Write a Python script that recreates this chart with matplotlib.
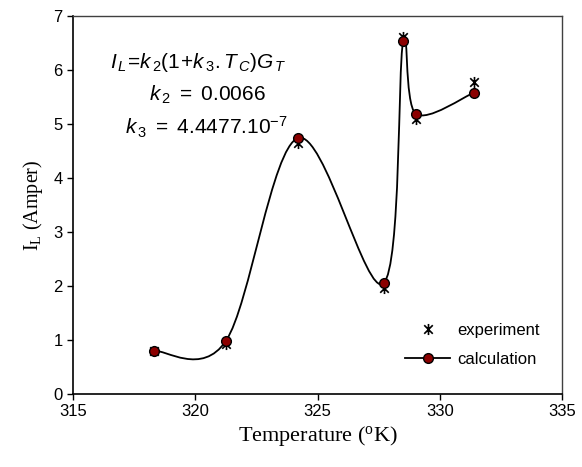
import matplotlib
matplotlib.use("Agg")
import matplotlib.pyplot as plt
from matplotlib.path import Path
from matplotlib.patches import PathPatch
from matplotlib.lines import Line2D
import numpy as np

# ---- data ----
temperature = [318.3, 321.25, 324.2, 327.7, 328.5, 329.02, 331.4]
experiment = [0.80, 0.93, 4.65, 1.97, 6.62, 5.10, 5.77]
calculation = [0.80, 0.98, 4.74, 2.05, 6.53, 5.19, 5.58]
x_ticks = [315, 320, 325, 330, 335]
y_ticks = [0, 1, 2, 3, 4, 5, 6, 7]

plt.rcParams['mathtext.fontset'] = 'custom'
plt.rcParams['mathtext.it'] = 'Liberation Sans:italic'
plt.rcParams['mathtext.rm'] = 'Liberation Sans'

fig = plt.figure(figsize=(5.82, 4.67), dpi=100)
ax = fig.add_axes([73/582, 1-394/467, (562-73)/582, (394-16)/467])

# smoothed curve (Catmull-Rom style bezier like Excel smoothing)
xs = np.array(temperature)
ys = np.array(calculation)
n = len(xs)
verts = [(xs[0], ys[0])]
codes = [Path.MOVETO]
for i in range(n - 1):
    p0 = np.array([xs[max(i-1, 0)], ys[max(i-1, 0)]])
    p1 = np.array([xs[i], ys[i]])
    p2 = np.array([xs[i+1], ys[i+1]])
    p3 = np.array([xs[min(i+2, n-1)], ys[min(i+2, n-1)]])
    c1 = p1 + (p2 - p0) / 6.0
    c2 = p2 - (p3 - p1) / 6.0
    verts += [tuple(c1), tuple(c2), tuple(p2)]
    codes += [Path.CURVE4] * 3
ax.add_patch(PathPatch(Path(verts, codes), facecolor='none', edgecolor='black', lw=1.3, zorder=2))

# star marker (X plus vertical bar)
star = Path([(-1, -1), (1, 1), (-1, 1), (1, -1), (0, -1.3), (0, 1.3)],
            [Path.MOVETO, Path.LINETO, Path.MOVETO, Path.LINETO, Path.MOVETO, Path.LINETO])

ax.plot(temperature, experiment, linestyle='none', marker=star, markersize=8,
        markeredgecolor='black', markerfacecolor='none', markeredgewidth=1.2, zorder=3)
ax.plot(temperature, calculation, linestyle='none', marker='o', markersize=7,
        markerfacecolor='#8B0000', markeredgecolor='black', markeredgewidth=1.0, zorder=4)

ax.set_xlim(315, 335)
ax.set_ylim(0, 7)
ax.set_xticks(x_ticks)
ax.set_yticks(y_ticks)
ax.tick_params(direction='out', length=4, width=1, labelsize=12)
for lab in ax.get_xticklabels() + ax.get_yticklabels():
    lab.set_fontfamily('Liberation Sans')
for s in ['left', 'bottom']:
    ax.spines[s].set_linewidth(1.2)
for s in ['top', 'right']:
    ax.spines[s].set_linewidth(1.0)
    ax.spines[s].set_color('#404040')

ax.set_xlabel(r'Temperature ($\mathregular{^o}$K)', family='Liberation Serif', fontsize=16, labelpad=3)
ax.set_ylabel('I$_\\mathregular{L}$ (Amper)', family='Liberation Serif', fontsize=14.5, labelpad=6)

fs = 15
ax.text(0.0757, 0.878, r'$I_{\,L}\!=\!k_{\,2}(1\!+\!k_{\,3}.T_{\,C})G_{\,T}$', transform=ax.transAxes,
        fontsize=fs, ha='left', va='center')
ax.text(0.274, 0.791, r'$k_{\,2}\ =\ \mathit{0.0066}$', transform=ax.transAxes,
        fontsize=fs, ha='center', va='center')
ax.text(0.106, 0.706, r'$k_{\,3}\ =\ \mathit{4.4477.10^{-7}}$', transform=ax.transAxes,
        fontsize=fs, ha='left', va='center')

handles = [Line2D([], [], linestyle='none', marker=star, markersize=8, markeredgecolor='black',
                  markerfacecolor='none', markeredgewidth=1.2),
           Line2D([], [], color='black', lw=1.3, marker='o', markersize=7,
                  markerfacecolor='#8B0000', markeredgecolor='black')]
ax.legend(handles, ['experiment', 'calculation'], loc='lower left', bbox_to_anchor=(0.679, 0.071),
          frameon=False, prop={'family': 'Liberation Sans', 'size': 12}, handlelength=2.7,
          labelspacing=0.85, handletextpad=0.45, borderpad=0, borderaxespad=0)

fig.savefig('out.png', dpi=100)
